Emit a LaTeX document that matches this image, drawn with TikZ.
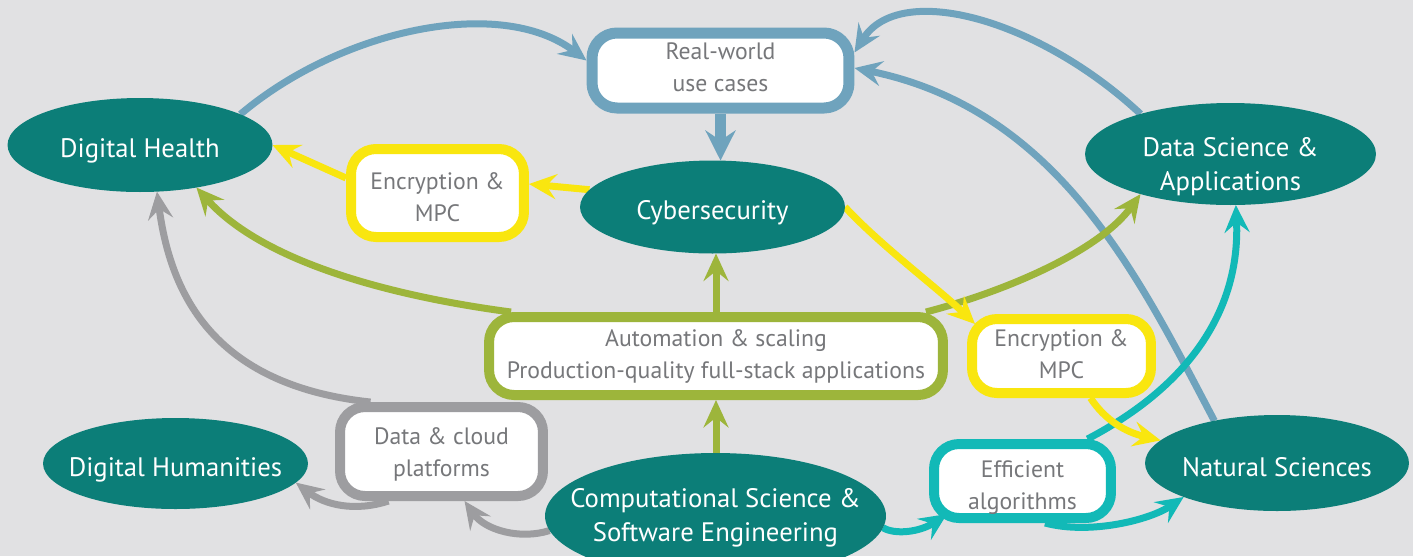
\documentclass[tikz,border=0pt]{standalone}
\usepackage{fontspec}
\setmainfont{PT Sans}
\usetikzlibrary{shapes.geometric,arrows.meta,calc}
\definecolor{bgc}{RGB}{225,225,227}
\definecolor{tealc}{RGB}{12,126,120}
\definecolor{bluec}{RGB}{111,163,189}
\definecolor{yellowc}{RGB}{249,230,15}
\definecolor{greenc}{RGB}{157,181,59}
\definecolor{grayc}{RGB}{157,157,160}
\definecolor{cyanc}{RGB}{18,185,183}
\definecolor{txtc}{RGB}{118,119,122}
\pgfdeclarelayer{back}
\pgfdeclarelayer{conn}
\pgfsetlayers{back,conn,main}
\newcommand{\elltext}[2]{\raisebox{-#1}[\height][\depth]{\makebox[0pt]{\begin{tabular}{@{}c@{}}#2\end{tabular}}}}
\newcommand{\boxtext}[2]{\raisebox{-#1}[\height][\depth]{\begin{tabular}{@{}c@{}}#2\end{tabular}}}
\begin{document}
\begin{tikzpicture}[x=0.02cm,y=-0.02cm,
  ell/.style={ellipse, fill=tealc, draw=none, inner sep=0pt, outer sep=0pt,
    text=white, font=\fontsize{15.2}{19}\selectfont},
  box/.style={rectangle, rounded corners=0.5cm, fill=white, line width=0.2cm,
    inner sep=0pt, text=txtc, align=center, font=\fontsize{13.5}{18.2}\selectfont},
  conn/.style={line width=0.14cm, -{Stealth[length=0.55cm,width=0.5cm,inset=0.2cm]}}
]
\begin{pgfonlayer}{back}
\fill[bgc] (0,0) rectangle (1413,556);
\end{pgfonlayer}
\useasboundingbox (0,0) rectangle (1413,556);

% ellipses
\node[ell, minimum width=5.3cm, minimum height=1.88cm] (dh) at (140,145) {\elltext{0.12cm}{Digital Health}};
\node[ell, minimum width=5.3cm, minimum height=1.86cm] (cyb) at (712.5,207) {\elltext{0.12cm}{Cybersecurity}};
\node[ell, minimum width=5.82cm, minimum height=2.04cm] (ds) at (1230.5,154) {\elltext{0.26cm}{Data Science \&\\Applications}};
\node[ell, minimum width=5.3cm, minimum height=1.82cm] (dhum) at (175.5,463.5) {\elltext{0.12cm}{Digital Humanities}};
\node[ell, minimum width=6.82cm, minimum height=2.52cm] (comp) at (715.5,516) {\elltext{0.04cm}{Computational Science \&\\Software Engineering}};
\node[ell, minimum width=5.28cm, minimum height=1.92cm] (ns) at (1277,463) {\elltext{0.14cm}{Natural Sciences}};

% boxes
\node[box, draw=bluec, line width=0.22cm, minimum width=5.14cm, minimum height=1.5cm] (rw) at (720.5,70.5) {\boxtext{-0.02cm}{Real-world\\use cases}};
\node[box, draw=yellowc, minimum width=3.46cm, minimum height=1.76cm] (encl) at (437.5,193) {\boxtext{0.12cm}{Encryption \&\\MPC}};
\node[box, draw=greenc, minimum width=9.08cm, minimum height=1.56cm] (auto) at (716,356) {\boxtext{0cm}{Automation \& scaling\\Production-quality full-stack applications}};
\node[box, draw=yellowc, minimum width=3.58cm, minimum height=1.48cm] (encr) at (1061.5,356) {\boxtext{0cm}{Encryption \&\\MPC}};
\node[box, draw=grayc, minimum width=4.06cm, minimum height=1.78cm] (cloud) at (441.5,451.5) {\boxtext{0.06cm}{Data \& cloud\\platforms}};
\node[box, draw=cyanc, minimum width=3.54cm, minimum height=1.48cm] (eff) at (1022.5,481) {\boxtext{0.12cm}{Efficient\\algorithms}};

\begin{pgfonlayer}{conn}
% blue
\draw[conn,bluec] (dh.17) .. controls (340,30) and (500,-5) .. ([yshift=0.2cm]rw.west);
\draw[conn,bluec,line width=0.22cm,-{Stealth[length=0.6cm,width=0.6cm,inset=0.2cm]}] (rw.south) -- (rw.south |- cyb.north);
\draw[conn,bluec] (ds.156) .. controls (1040,20) and (900,-20) .. ([yshift=0.36cm]rw.east);
\draw[conn,bluec] (ns.146) .. controls (1140,280) and (1060,110) .. ([yshift=0.05cm]rw.east);
% green
\draw[conn,greenc] ([xshift=-4.1cm]auto.north) .. controls (420,300) and (270,270) .. (dh.-37);
\draw[conn,greenc] ([xshift=4.2cm]auto.north) .. controls (1010,290) and (1100,250) .. (ds.204);
\draw[conn,greenc] (auto.north) -- (auto.north |- cyb.south);
\draw[conn,greenc] (auto.south |- comp.north) -- (auto.south);
% gray
\draw[conn,grayc] ([xshift=-1.42cm]cloud.north) .. controls (210,385) and (170,290) .. (dh.-70);
\draw[conn,grayc] ([xshift=-1.06cm]cloud.south) .. controls (355,512) and (325,505) .. (dhum.-9);
\draw[conn,grayc] (comp.185) .. controls (520,540) and (485,530) .. ([xshift=0.46cm]cloud.south);
% teal
\draw[conn,cyanc] (comp.-4) .. controls (895,535) and (920,532) .. ([xshift=0.36cm,yshift=0.18cm]eff.south west);
\draw[conn,cyanc] ([xshift=0.45cm]eff.south) .. controls (1090,535) and (1150,520) .. (ns.200);
\draw[conn,cyanc] ([xshift=1.3cm]eff.north) .. controls (1200,380) and (1240,300) .. (ds.-84);
% yellow
\draw[conn,yellowc] (cyb.172) -- ([yshift=0.18cm]encl.east);
\draw[conn,yellowc] ([yshift=0.3cm]encl.west) -- (dh.east);
\draw[conn,yellowc] (cyb.east) .. controls (880,245) and (940,290) .. ([xshift=0.16cm,yshift=-0.2cm]encr.north west);
\draw[conn,yellowc] ([xshift=0.58cm]encr.south) .. controls (1105,420) and (1125,432) .. (ns.169);
\end{pgfonlayer}
\end{tikzpicture}
\end{document}
